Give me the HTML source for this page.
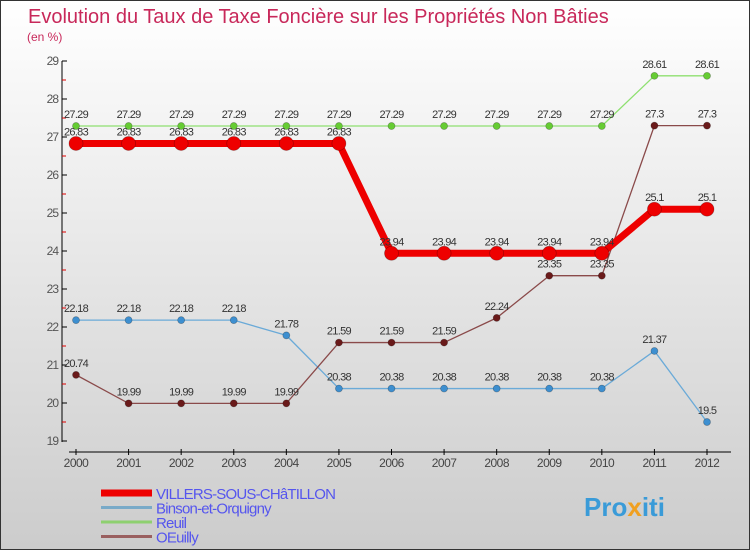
<!DOCTYPE html>
<html><head><meta charset="utf-8"><style>
body{margin:0}
#c{width:750px;height:550px;position:relative;overflow:hidden;box-sizing:border-box;border:1px solid #333;background:linear-gradient(#fff,#ccc);font-family:"Liberation Sans",sans-serif}
svg{position:absolute;left:0;top:0}
</style></head><body>
<div id="c">
<svg id="s" width="750" height="550">
<text x="27" y="22" font-size="20" fill="#c8285a">Evolution du Taux de Taxe Foncière sur les Propriétés Non Bâties</text>
<text x="26" y="40" font-size="12" fill="#c8285a">(en %)</text>
<text x="583" y="515" font-size="26" font-weight="bold" fill="#3a9bd8">Pro<tspan fill="#f0a020">x</tspan>iti</text>
</svg>
</div>
<script>
const years=[2000,2001,2002,2003,2004,2005,2006,2007,2008,2009,2010,2011,2012];
const villers=[26.83,26.83,26.83,26.83,26.83,26.83,23.94,23.94,23.94,23.94,23.94,25.1,25.1];
const binson=[22.18,22.18,22.18,22.18,21.78,20.38,20.38,20.38,20.38,20.38,20.38,21.37,19.5];
const reuil=[27.29,27.29,27.29,27.29,27.29,27.29,27.29,27.29,27.29,27.29,27.29,28.61,28.61];
const oeuilly=[20.74,19.99,19.99,19.99,19.99,21.59,21.59,21.59,22.24,23.35,23.35,27.3,27.3];
const yTicks=[19,20,21,22,23,24,25,26,27,28,29];
const seriesNames=["VILLERS-SOUS-CHâTILLON","Binson-et-Orquigny","Reuil","OEuilly"];
const NS="http://www.w3.org/2000/svg";
const svg=document.getElementById('s');
const x=i=>75+i*(706-75)/(years.length-1);
const y=v=>60+(29-v)*38;
function el(t,a,p){const e=document.createElementNS(NS,t);for(const k in a)e.setAttribute(k,a[k]);(p||svg).appendChild(e);return e;}
// axes
let ax=el('line',{x1:61,y1:60,x2:61,y2:441,stroke:'#000','stroke-width':1});


let bx=el('line',{x1:68,y1:451,x2:730,y2:451,stroke:'#000','stroke-width':1});


yTicks.forEach(v=>{
  el('line',{x1:61,y1:y(v),x2:66,y2:y(v),stroke:'#000'});
  if(v<29) el('line',{x1:61,y1:y(v+0.5),x2:65,y2:y(v+0.5),stroke:'#d00'});
  const t=el('text',{x:57,y:y(v)+4,'font-size':12,fill:'#555','text-anchor':'end','letter-spacing':'-1'});
  t.textContent=v;
  
  
});
years.forEach((yr,i)=>{
  el('line',{x1:x(i),y1:448,x2:x(i),y2:454,stroke:'#000'});
  const t=el('text',{x:x(i),y:466,'font-size':12,fill:'#444','text-anchor':'middle','letter-spacing':'-0.5'});
  t.textContent=yr;
  
  
});
function series(vals,color,w,r,dot,name){
  const g=el('g',{});
  
  
  el('polyline',{points:vals.map((v,i)=>x(i)+','+y(v)).join(' '),fill:'none',stroke:color,'stroke-width':w,'stroke-linejoin':'round'},g);
  vals.forEach((v,i)=>{
    const c=el('circle',{cx:x(i),cy:y(v),r:r,fill:dot,stroke:'rgba(0,0,0,0.3)','stroke-width':0.7},g);
    
    
    const t=el('text',{x:x(i),y:y(v)-8,'font-size':11,fill:'#333','text-anchor':'middle','letter-spacing':'-0.7'},g);
    t.textContent=v;
    
    
  });
}
series(binson,'#6aaad8',1.3,3.5,'#3d8fd0','binson-series');
series(reuil,'#8ee070',1.3,3.5,'#66cc33','reuil-series');
series(oeuilly,'#8a4a4a',1.3,3.5,'#6a1a1a','oeuilly-series');
series(villers,'#ee0000',7,7,'#ee0000','villers-series');
// legend
const lc=['#ee0000','#79aac8','#8ed070','#9a6060'],lw=[7,3,3,3];
seriesNames.forEach((n,i)=>{
  const ly=492+i*14.5;
  const g=el('g',{});
  
  
  el('line',{x1:100,y1:ly,x2:151,y2:ly,stroke:lc[i],'stroke-width':lw[i]},g);
  const t=el('text',{x:155,y:ly+6,'font-size':15,fill:'#5555ee','letter-spacing':'-0.8'},g);
  t.textContent=n;
});
</script>
</body></html>
